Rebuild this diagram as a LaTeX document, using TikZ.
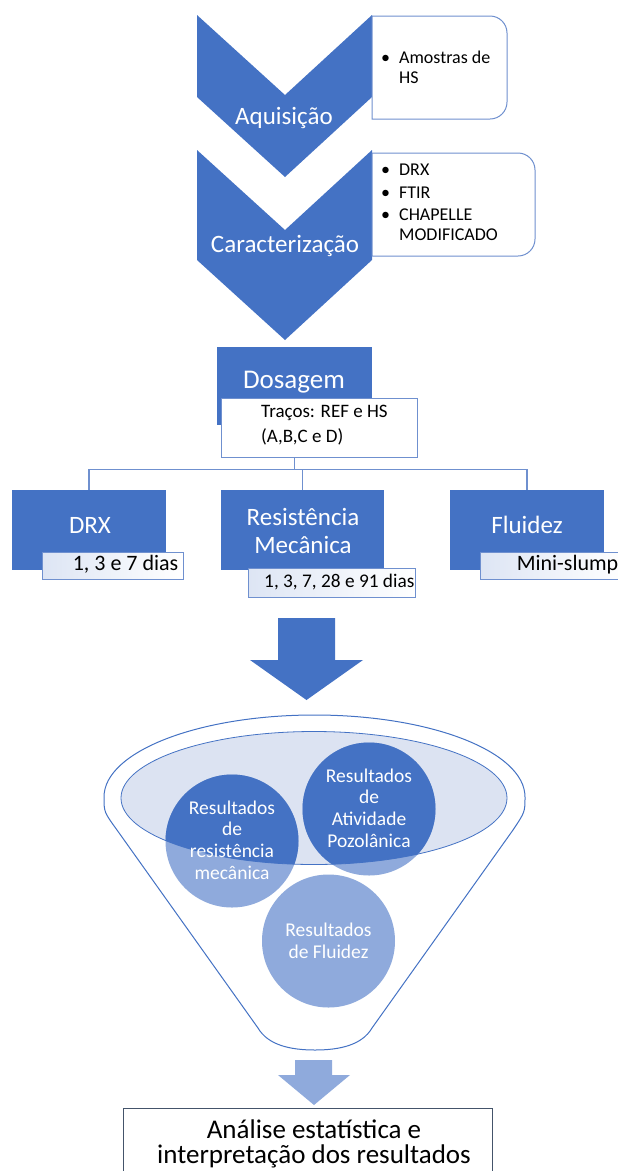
\documentclass[tikz,border=0pt]{standalone}
\usepackage{fontspec}
\setmainfont{Carlito}
\usetikzlibrary{positioning,calc}
\definecolor{chevblue}{HTML}{4472C4}
\definecolor{paleblue}{HTML}{8FAADC}
\definecolor{funnelfill}{HTML}{DCE3F2}
\definecolor{edgeblue}{HTML}{6F90CF}
\definecolor{subtint}{HTML}{DDE5F4}
\definecolor{boxline}{HTML}{44546A}

\begin{document}
\begin{tikzpicture}[x=1pt,y=-1pt,
    bluebox/.style={fill=chevblue,minimum height=80pt,inner sep=0pt},
    whitebox/.style={draw=edgeblue,fill=white,line width=1pt,inner sep=0pt},
    subbox/.style={draw=edgeblue,line width=1pt,left color=subtint,right color=white,minimum height=27pt,inner sep=0pt},
    headtxt/.style={text=white,inner sep=0pt,align=center,font=\fontsize{25}{28}\selectfont},
    listtxt/.style={inner sep=0pt,align=left,font=\fontsize{18}{19.5}\selectfont},
    subtxt/.style={inner sep=0pt,font=\fontsize{22}{24}\selectfont},
    circtxt/.style={text=white,inner sep=0pt,align=center,font=\fontsize{19.5}{21.7}\selectfont},
    conn/.style={draw=edgeblue,line width=1.3pt},
    listbox/.style={draw=edgeblue,fill=white,line width=1pt}]
    \useasboundingbox (0,0) rectangle (618,1171);

    \fill[chevblue] (197,15) -- (285,95) -- (372,15) -- (372,97) -- (285,177) -- (197,97) -- cycle;
    \fill[chevblue] (197,150) -- (285,230) -- (372,150) -- (372,260) -- (285,340) -- (197,260) -- cycle;
    \node[headtxt] (aquis) at (284,118) {Aquisição};
    \node[headtxt] (carac) at (285,246) {Caracterização};

    \draw[listbox] (372,16) -- (490,16) arc[start angle=270,end angle=360,radius=17] -- (507,102)
        arc[start angle=0,end angle=90,radius=17] -- (372,119) -- cycle;
    \draw[listbox] (372,153) -- (518,153) arc[start angle=270,end angle=360,radius=17] -- (535,239)
        arc[start angle=0,end angle=90,radius=17] -- (372,256) -- cycle;
    \node[listtxt,anchor=north west] (aquisitems) at (381,51) {\textbullet\enspace Amostras de\\\phantom{\textbullet\enspace}HS};
    \node[listtxt,anchor=north west] (caracitems) at (381,164) {\textbullet\enspace DRX\\[3pt]\textbullet\enspace FTIR\\[3pt]\textbullet\enspace CHAPELLE\\\phantom{\textbullet\enspace}MODIFICADO};

    \node[bluebox,minimum width=155pt,minimum height=78pt] (dosagem) at (294.5,386) {};
    \node[headtxt,font=\fontsize{27}{30}\selectfont] (dosagemtxt) at (294,382) {Dosagem};
    \node[whitebox,minimum width=196pt,minimum height=59pt] (tracos) at (319,427.5) {};
    \node[inner sep=0pt,align=left,anchor=north west,font=\fontsize{19}{25}\selectfont] (tracostxt) at (261,405) {Traços: REF e HS\\(A,B,C e D)};

    \node[bluebox,minimum width=154pt] (drx) at (89,530) {};
    \node[bluebox,minimum width=163pt] (resist) at (302.5,530) {};
    \node[bluebox,minimum width=154pt] (fluidez) at (527,530) {};
    \node[headtxt] (drxtxt) at (90,525) {DRX};
    \node[headtxt] (resisttxt) at (303,531) {Resistência\\Mecânica};
    \node[headtxt] (fluideztxt) at (527,525) {Fluidez};

    \draw[conn] (dosagem.south |- tracos.south) -- ++(0,12) coordinate (hub);
    \draw[conn] (drx.north) |- (hub) -| (fluidez.north);
    \draw[conn] (resist.north) -- (resist.north |- hub);

    \node[subbox,minimum width=140.5pt] (drxsub) at (112.75,565.5) {};
    \node[subbox,minimum width=167pt,minimum height=29pt] (resistsub) at (331.5,582.5) {};
    \node[subbox,minimum width=145pt] (fluidezsub) at (552.5,565.5) {};
    \node[subtxt,anchor=east] (drxdays) at ([xshift=-5pt,yshift=1pt]drxsub.east) {1, 3 e 7 dias};
    \node[subtxt,anchor=east,font=\fontsize{19.3}{22}\selectfont] (resistdays) at ([xshift=-1pt]resistsub.east) {1, 3, 7, 28 e 91 dias};
    \node[subtxt,anchor=east] (slump) at ([xshift=-7pt,yshift=1pt]fluidezsub.east) {Mini-slump};

    \fill[chevblue] (278,618) -- (335,618) -- (335,660) -- (363,660) -- (306.5,700) -- (250,660) -- (278,660) -- cycle;

    \draw[draw=chevblue,line width=1pt,fill=white] (104,797) arc[start angle=180,end angle=360,x radius=210.5,y radius=82]
        .. controls (525,812) .. (513,830) -- (372,1028) .. controls (362,1045) and (340,1050) .. (315,1050)
        .. controls (290,1050) and (268,1045) .. (258,1028) -- (117,830) .. controls (104,812) .. (104,797) -- cycle;
    \fill[funnelfill] (314,798) ellipse[x radius=193,y radius=66.5];
    \fill[paleblue] (232,841) circle[radius=66.5] (369,809) circle[radius=66.5] (328.5,941) circle[radius=66.5];
    \begin{scope}
        \clip (314,798) ellipse[x radius=193,y radius=66.5];
        \fill[chevblue] (232,841) circle[radius=66.5] (369,809) circle[radius=66.5];
    \end{scope}
    \draw[draw=chevblue,line width=0.8pt] (314,798) ellipse[x radius=193,y radius=66.5];
    \node[circtxt] (resmec) at (232,840) {Resultados\\de\\resistência\\mecânica};
    \node[circtxt] (respoz) at (369,808) {Resultados\\de\\Atividade\\Pozolânica};
    \node[circtxt] (resflu) at (328.5,941) {Resultados\\de Fluidez};

    \fill[paleblue] (295,1060) -- (332,1060) -- (332,1075) -- (350,1075) -- (314,1105) -- (278,1075) -- (295,1075) -- cycle;

    \node[draw=boxline,line width=1pt,fill=white,minimum width=369pt,minimum height=80pt] (analise) at (307.5,1148) {};
    \node[inner sep=0pt,align=center,font=\fontsize{27}{25}\selectfont] (analisetxt) at (314,1144) {Análise estatística e\\interpretação dos resultados};
\end{tikzpicture}
\end{document}
